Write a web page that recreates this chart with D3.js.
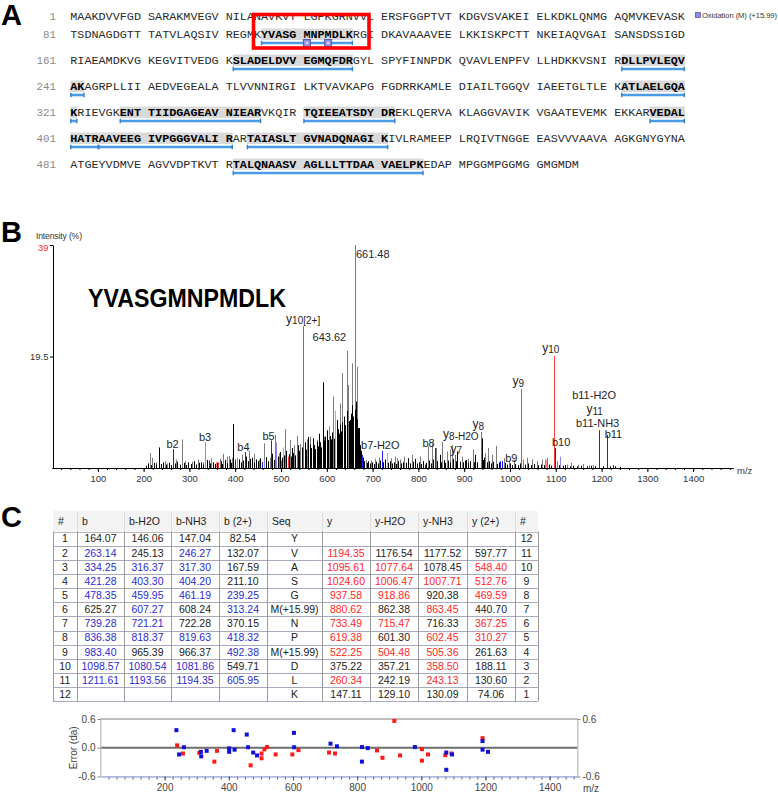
<!DOCTYPE html>
<html>
<head>
<meta charset="utf-8">
<script src="https://cdn.jsdelivr.net/npm/d3@7/dist/d3.min.js"></script>
<style>
body{margin:0;background:#fff;}
svg{display:block;}
</style>
</head>
<body>
<svg width="778" height="794"></svg>
<script>
// ---------- data ----------
// protein sequence, one string per printed row (groups of 10)
var proteinRows = [
  "MAAKDVVFGD SARAKMVEGV NILANAVKVT LGPKGRNVVL ERSFGGPTVT KDGVSVAKEI ELKDKLQNMG AQMVKEVASK",
  "TSDNAGDGTT TATVLAQSIV REGMKYVASG MNPMDLKRGI DKAVAAAVEE LKKISKPCTT NKEIAQVGAI SANSDSSIGD",
  "RIAEAMDKVG KEGVITVEDG KSLADELDVV EGMQFDRGYL SPYFINNPDK QVAVLENPFV LLHDKKVSNI RDLLPVLEQV",
  "AKAGRPLLII AEDVEGEALA TLVVNNIRGI LKTVAVKAPG FGDRRKAMLE DIAILTGGQV IAEETGLTLE KATLAELGQA",
  "KRIEVGKENT TIIDGAGEAV NIEARVKQIR TQIEEATSDY DREKLQERVA KLAGGVAVIK VGAATEVEMK EKKARVEDAL",
  "HATRAAVEEG IVPGGGVALI RARTAIASLT GVNADQNAGI KIVLRAMEEP LRQIVTNGGE EASVVVAAVA AGKGNYGYNA",
  "ATGEYVDMVE AGVVDPTKVT RTALQNAASV AGLLLTTDAA VAELPKEDAP MPGGMPGGMG GMGMDM"
];
var peptideStarts = [106,182,232,312,328,351,396,405,424,502];
var peptideEnds   = [117,197,242,321,345,362,404,421,441,526];
var oxidationSites = [111,114];
var legendText = "Oxidation (M) (+15.99)";

// spectrum peaks [m/z, intensity %]
var grayPeaks = [[213,2.6],[218,1.8],[226,1.0],[247,1.2],[252,0.8],[270,1.5],[284,5.0],[290,1.2],[305,1.1],[318,1.5],
  [329,1.0],[348,1.7],[366,1.6],[373,2.5],[383,2.0],[386,2.1],[392,1.8],[415,2.3],[422,1.4],[431,3.0],[441,2.5],
  [452,1.5],[463,4.3],[475,1.8],[487,5.8],[496,2.6],[509,6.8],[520,4.9],[528,4.0],[534,5.6],[542,4.2],[556,5.0],
  [564,5.5],[573,4.0],[579,4.9],[595,5.5],[613,12.5],[629,11.3],[634,16.6],[643.62,20.5],[647,14.5],[654,18.3],
  [661.48,39],[667,17.7],[680,1.5],[685,1.4],[697,1.3],[705,1.6],[713,1.2],[740,1.7],[749,2.0],[753,1.7],[760,1.5],
  [769,2.0],[785,2.3],[803,2.0],[821,3.8],[829,4.3],[838,3.5],[852,4.6],[862,2.9],[869,3.2],[873,4.0],[880,2.0],
  [895,2.0],[908,1.6],[946,2.6],[951,3.5],[961,2.3],[969,3.9],[987,1.7],[997,1.3],[1008,1.5],[1029,1.5],[1037,1.8],
  [1048,1.5],[1059,1.2],[1070,1.5],[1081,1.8],[1103,1.2],[1125,0.6],[1134,0.9],[1149,0.6],[1160,0.7],[1172,0.5],[1182,0.5]];
var blackPeaks = [[205,0.4],[209,0.8],[216,0.5],[222,0.9],[228,0.6],[234,3.6],[238,0.7],[243,1.0],[250,0.6],[255,0.9],
  [259,0.5],[268,0.8],[274,1.1],[279,0.6],[288,0.9],[293,0.5],[298,1.0],[303,0.7],[309,1.2],[314,0.6],[320,0.9],
  [325,1.0],[330,0.6],[339,1.4],[345,0.8],[351,1.0],[355,0.7],[361,0.9],[368,1.2],[371,0.7],[378,1.4],[382,0.8],
  [388,1.5],[391,0.9],[396,7.7],[399,1.1],[404,1.6],[409,1.5],[413,1.0],[418,1.3],[424,2.0],[427,1.2],[433,1.6],
  [436,1.8],[440,1.0],[445,1.5],[449,1.2],[454,1.7],[459,1.0],[463,1.3],[468,1.9],[471,1.2],[478,2.2],[481,2.5],
  [485,1.4],[493,2.0],[498,2.8],[502,1.8],[507,2.2],[512,3.0],[517,2.4],[521,2.0],[524,3.5],[527,2.6],[531,2.2],
  [537,4.0],[540,3.0],[545,3.6],[549,2.7],[552,4.5],[555,3.2],[558,3.8],[560,5.4],[563,4.1],[566,3.5],[569,5.2],
  [572,4.0],[575,3.3],[578,4.6],[581,3.8],[583,6.0],[586,4.5],[588,3.6],[591,15.0],[593,4.8],[597,5.5],[600,6.6],
  [603,4.9],[607,5.6],[609,5.0],[612,6.2],[615,5.1],[619,7.2],[622,8.4],[624,6.8],[626,6.0],[628,7.6],[631,6.4],
  [634,8.0],[637,9.0],[640,7.5],[645,10.0],[648,8.2],[651,8.4],[653,9.5],[656,11.0],[658,9.0],[661,10.2],[663,11.6],
  [665,8.5],[668,7.0],[670,7.0],[672,4.0],[674,3.0],[678,1.8],[682,1.2],[687,0.9],[690,1.2],[694,0.8],[699,1.0],
  [703,0.7],[708,1.1],[712,0.8],[716,1.3],[723,1.0],[727,1.5],[733,0.9],[737,1.2],[743,0.8],[747,1.0],[752,0.7],
  [756,1.2],[762,0.8],[766,1.0],[772,0.9],[778,1.7],[782,0.8],[789,1.1],[793,1.6],[797,0.8],[801,1.0],[806,0.7],
  [810,1.2],[817,0.9],[824,1.3],[827,0.8],[833,1.5],[841,1.2],[847,2.3],[850,1.0],[856,1.4],[859,0.9],[865,1.3],
  [868,1.0],[876,1.6],[882,1.2],[885,2.9],[890,1.1],[897,1.0],[901,1.3],[904,1.4],[909,0.9],[913,1.2],[921,1.0],
  [924,2.3],[929,1.0],[939,5.2],[941,1.4],[944,1.8],[949,1.0],[955,1.2],[959,0.8],[964,1.1],[972,0.7],[975,1.0],
  [982,0.6],[990,0.9],[994,0.6],[1000,0.8],[1005,0.5],[1012,0.7],[1017,0.5],[1021,0.8],[1032,0.6],[1040,0.8],
  [1045,0.5],[1053,0.7],[1062,0.5],[1067,0.6],[1074,0.5],[1085,0.6],[1090,0.4],[1106,0.5],[1115,0.4],[1121,0.5],
  [1130,0.3],[1138,0.4],[1146,0.3],[1155,0.4],[1168,0.3],[1176,0.4],[1185,0.3],[1203,0.3],[1218,0.3],[1229,0.3],[1240,0.2]];
var lightBluePeaks = [[334.25,4.5],[404,1.8],[462,1.6],[490,4.5],[605,7.3],[1077,1.5],[1110,2.0]];
var pinkPeaks = [[265,1.5],[358,1.1],[505,3.6],[617,10.0],[731,2.6],[1079,1.4]];
var bluePeaks = [[263.14,3.3],[421.28,2.8],[478.35,4.8],[721.21,3.0],[836.38,3.5],[983.40,1.2],[1098.57,3.5],
  [1193.56,6.6],[1211.61,5.8],[343,1.3],[400,1.5],[458,1.0],[676,2.3],[814,0.6],[979,1.2],[1224,0.5]];
var redPeaks = [[548.40,24.8],[1095.61,19.6],[1024.60,13.8],[937.58,6.3],[918.86,3.2],[880.62,2.3],
  [362,1.0],[501,1.3],[516,2.0],[713,1.8]];

// annotations on the spectrum
var annLabels = ["b2","b3","b4","b5","b7-H2O","b8","b9","b10","b11","y7","y8-H2O","y8","y9","y10","y10[2+]",
  "b11-H2O","y11","b11-NH3","643.62","661.48"];
var annMz  = [263.14,334.25,421.28,478.35,721.21,836.38,983.40,1098.57,1211.61,880.62,918.86,937.58,1024.60,1095.61,548.40,
  1193.56,1193.56,1193.56,643.62,661.48];
var annInt = [3.3,4.5,2.8,4.8,3.0,3.5,1.2,3.5,5.8,2.3,3.2,6.3,13.8,19.6,24.8,6.6,6.6,6.6,20.5,39];
var peptideName = "YVASGMNPMDLK";

// fragment table
var tableHeaders = ["#","b","b-H2O","b-NH3","b (2+)","Seq","y","y-H2O","y-NH3","y (2+)","#"];
var bIons  = ["164.07","263.14","334.25","421.28","478.35","625.27","739.28","836.38","983.40","1098.57","1211.61",""];
var bH2O   = ["146.06","245.13","316.37","403.30","459.95","607.27","721.21","818.37","965.39","1080.54","1193.56",""];
var bNH3   = ["147.04","246.27","317.30","404.20","461.19","608.24","722.28","819.63","966.37","1081.86","1194.35",""];
var b2plus = ["82.54","132.07","167.59","211.10","239.25","313.24","370.15","418.32","492.38","549.71","605.95",""];
var seqRes = ["Y","V","A","S","G","M(+15.99)","N","P","M(+15.99)","D","L","K"];
var yIons  = ["","1194.35","1095.61","1024.60","937.58","880.62","733.49","619.38","522.25","375.22","260.34","147.11"];
var yH2O   = ["","1176.54","1077.64","1006.47","918.86","862.38","715.47","601.30","504.48","357.21","242.19","129.10"];
var yNH3   = ["","1177.52","1078.45","1007.71","920.38","863.45","716.33","602.45","505.36","358.50","243.13","130.09"];
var y2plus = ["","597.77","548.40","512.76","469.59","440.70","367.25","310.27","261.63","188.11","130.60","74.06"];
var bIonsHit  = [0,1,1,1,1,0,1,1,1,1,1,0];
var bH2OHit   = [0,0,1,1,1,1,1,1,0,1,1,0];
var bNH3Hit   = [0,1,1,1,1,0,0,1,0,1,1,0];
var b2plusHit = [0,0,0,0,1,1,0,1,1,0,1,0];
var yIonsHit  = [0,1,1,1,1,1,1,1,1,0,1,0];
var yH2OHit   = [0,0,1,1,1,0,1,0,1,0,0,0];
var yNH3Hit   = [0,0,0,1,0,1,0,1,1,1,1,0];
var y2plusHit = [0,0,1,1,1,0,1,1,0,0,0,0];

// mass error [m/z, error da]
var errBlue = [[236.6,0.367],[245,-0.14],[260,0.01],[313,-0.085],[314,-0.18],[331,-0.064],[401,-0.014],[401,-0.085],
  [415,0.367],[418,-0.04],[456,0.275],[460,0.01],[476,-0.1],[488,-0.16],[603,0.31],[603.6,0.01],[717,0.085],[737,0.03],
  [815,0.014],[815,-0.29],[833,-0.007],[980,0.014],[1078,-0.1],[1078,-0.46],[1096,-0.14],[1191,0.14],[1191,-0.04],[1208,-0.085]];
var errRed = [[239,0.05],[257,-0.12],[308,-0.106],[355,-0.29],[363,-0.064],[468,-0.367],[502,-0.12],[502,-0.22],
  [511,-0.035],[519,0.014],[546,-0.14],[598,-0.14],[617,-0.05],[712.5,-0.1],[731,-0.12],[862,-0.056],[879,-0.21],
  [916,0.56],[934,-0.16],[1002,-0.03],[1002,-0.27],[1021,-0.14],[1075,-0.155],[1094,-0.12],[1191,0.2]];

// ---------- drawing ----------
var svg = d3.select("svg");
var sans = "'Liberation Sans', Arial, sans-serif";
var mono = "'Liberation Mono', 'Courier New', monospace";

// panel letters
var letters = svg.append("g").attr("font-family", sans).attr("font-weight", "bold").attr("font-size", 29);
letters.append("text").attr("x", 1).attr("y", 25).text("A");
letters.append("text").attr("x", 1).attr("y", 242).text("B");
letters.append("text").attr("x", 1).attr("y", 527).text("C");

// ===== panel A: sequence coverage =====
var seqX0 = 70.3, seqCw = 7.064;
function seqColX(c) { return seqX0 + (Math.floor(c / 10) * 11 + c % 10) * seqCw; }
var rows = proteinRows.map(function(r) { return r.replace(/ /g, ""); });
var rowBase = [];
var yy = 19.5;
rows.forEach(function(row, r) {
  rowBase.push(yy);
  var s0 = r * 80 + 1, e0 = s0 + row.length - 1;
  var under = peptideStarts.some(function(s, k) { return s <= e0 && peptideEnds[k] >= s0; });
  yy += under ? 26 : 18;
});
function inPeptide(i) {
  return peptideStarts.some(function(s, k) { return i >= s && i <= peptideEnds[k]; });
}
var gA = svg.append("g");
// grey shading behind covered residues
peptideStarts.forEach(function(s, k) {
  var e = peptideEnds[k];
  rows.forEach(function(row, r) {
    var s0 = r * 80 + 1, e0 = s0 + row.length - 1;
    if (s > e0 || e < s0) return;
    var c1 = Math.max(s, s0) - s0, c2 = Math.min(e, e0) - s0;
    gA.append("rect")
      .attr("x", seqColX(c1)).attr("y", rowBase[r] - 9)
      .attr("width", seqColX(c2) + seqCw - seqColX(c1)).attr("height", 11.5)
      .attr("fill", "#d9d9d9");
  });
});
// residues
rows.forEach(function(row, r) {
  var s0 = r * 80 + 1;
  gA.append("text")
    .attr("x", 56).attr("y", rowBase[r])
    .attr("text-anchor", "end")
    .attr("font-family", mono).attr("font-size", 10.8)
    .attr("fill", "#8a8a8a")
    .text(s0);
  row.split("").forEach(function(ch, c) {
    var covered = inPeptide(s0 + c);
    gA.append("text")
      .attr("x", seqColX(c)).attr("y", rowBase[r])
      .attr("font-family", mono).attr("font-size", 11.77)
      .attr("font-weight", covered ? "bold" : "normal")
      .attr("fill", covered ? "#000" : "#2a2a2a")
      .text(ch);
  });
});
// blue underlines
peptideStarts.forEach(function(s, k) {
  var e = peptideEnds[k];
  rows.forEach(function(row, r) {
    var s0 = r * 80 + 1, e0 = s0 + row.length - 1;
    if (s > e0 || e < s0) return;
    var c1 = Math.max(s, s0) - s0, c2 = Math.min(e, e0) - s0;
    var xa = seqColX(c1) + 0.5, xb = seqColX(c2) + seqCw - 0.5, uy = rowBase[r] + 5.5;
    gA.append("line").attr("x1", xa).attr("x2", xb).attr("y1", uy).attr("y2", uy)
      .attr("stroke", "#4c9be8").attr("stroke-width", 2.6);
    [xa, xb].forEach(function(xt) {
      gA.append("line").attr("x1", xt).attr("x2", xt).attr("y1", uy - 2.2).attr("y2", uy + 2.2)
        .attr("stroke", "#2f7fd0").attr("stroke-width", 1.4);
    });
  });
});
// oxidation marks
oxidationSites.forEach(function(i) {
  var r = Math.floor((i - 1) / 80), c = (i - 1) % 80;
  var cx = seqColX(c) + seqCw / 2, cy = rowBase[r] + 5.5;
  gA.append("rect").attr("x", cx - 3.5).attr("y", cy - 3.5).attr("width", 7).attr("height", 7)
    .attr("fill", "#8e8ee0").attr("stroke", "#5a5ab8").attr("stroke-width", 1);
  gA.append("rect").attr("x", cx - 1.3).attr("y", cy - 1.3).attr("width", 2.6).attr("height", 2.6)
    .attr("fill", "#d8d8f4");
});
// legend
gA.append("rect").attr("x", 695.5).attr("y", 12.5).attr("width", 5).attr("height", 5)
  .attr("fill", "#8e8ee0").attr("stroke", "#5a5ab8").attr("stroke-width", 0.8);
gA.append("text").attr("x", 702).attr("y", 18).attr("font-family", sans).attr("font-size", 7.6)
  .attr("fill", "#333").attr("textLength", 75).text(legendText);
// red box round the peptide
gA.append("rect").attr("x", 253.5).attr("y", 14.5).attr("width", 115.5).attr("height", 33.5)
  .attr("fill", "none").attr("stroke", "#ff0000").attr("stroke-width", 3.6);

// ===== panel B: MS/MS spectrum =====
var xS = d3.scaleLinear().domain([0, 1487]).range([52, 733]);
var yS = d3.scaleLinear().domain([0, 39]).range([468, 245]);
var gB = svg.append("g");

function drawPeaks(list, color) {
  gB.append("g").selectAll("line").data(list).enter().append("line")
    .attr("x1", function(d) { return Math.round(xS(d[0])) + 0.5; })
    .attr("x2", function(d) { return Math.round(xS(d[0])) + 0.5; })
    .attr("y1", yS(0))
    .attr("y2", function(d) { return yS(d[1]); })
    .attr("stroke", color).attr("stroke-width", 1);
}
drawPeaks(grayPeaks, "#7d7d7d");
drawPeaks(blackPeaks, "#000");
drawPeaks(lightBluePeaks, "#8a8ae6");
drawPeaks(pinkPeaks, "#ff8c8c");
drawPeaks(bluePeaks, "#1e1ef0");
drawPeaks(redPeaks, "#ff3a3a");

// axes
var xMinor = gB.append("g").attr("transform", "translate(0,468)")
  .call(d3.axisBottom(xS).tickValues(d3.range(20, 1481, 20)).tickSize(2).tickSizeOuter(0).tickFormat(""));
var xMajor = gB.append("g").attr("transform", "translate(0,468)")
  .call(d3.axisBottom(xS).tickValues(d3.range(100, 1401, 100)).tickSize(4).tickPadding(3).tickSizeOuter(0)
    .tickFormat(d3.format("d")));
[xMinor, xMajor].forEach(function(g) {
  g.select(".domain").attr("stroke", "#000");
  g.selectAll(".tick line").attr("stroke", "#000");
});
xMajor.selectAll("text").attr("font-family", sans).attr("font-size", 9.5).attr("fill", "#333");
var yAx = gB.append("g").attr("transform", "translate(53,0)")
  .call(d3.axisLeft(yS).tickValues([19.5, 39]).tickSize(3).tickPadding(1.5).tickSizeOuter(0)
    .tickFormat(function(d) { return d; }));
yAx.select(".domain").attr("stroke", "#000");
yAx.selectAll(".tick line").attr("stroke", "#000");
yAx.selectAll("text").attr("font-family", sans).attr("font-size", 9.5)
  .attr("fill", function(d) { return d === 39 ? "#ff3030" : "#333"; });
yAx.selectAll("text").filter(function(d) { return d === 39; }).attr("dy", "0.55em");

gB.append("text").attr("x", 36).attr("y", 239).attr("font-family", sans).attr("font-size", 8.6)
  .attr("fill", "#333").attr("textLength", 46).text("Intensity (%)");
gB.append("text").attr("x", 737).attr("y", 473.5).attr("font-family", sans).attr("font-size", 9.5)
  .attr("fill", "#333").text("m/z");
gB.append("text").attr("x", 88).attr("y", 307).attr("font-family", sans).attr("font-weight", "bold")
  .attr("font-size", 26).attr("textLength", 198).attr("lengthAdjust", "spacingAndGlyphs").text(peptideName);

// peak labels: offset from the top of the peak
var annLayout = {
  "b2": [0, -1.5, "middle"], "b3": [0, -1, "middle"], "b4": [-1.5, -1, "middle"], "b5": [-2.5, -0.5, "middle"],
  "b7-H2O": [-2, -1.5, "middle"], "b8": [-6.5, -0.5, "middle"], "b9": [9, 0.5, "middle"], "b10": [6, -1.5, "middle"],
  "b11": [6.6, 2.7, "middle"], "y7": [1, -2, "middle"], "y8-H2O": [-12, -11.5, "middle"], "y8": [-3, -3.5, "middle"],
  "y9": [-3, -4, "middle"], "y10": [-3, -4, "middle"], "y10[2+]": [0, -3.5, "middle"],
  "b11-H2O": [-4.5, -31, "middle"], "y11": [-4, -17, "middle"], "b11-NH3": [-1, -3, "middle"],
  "643.62": [-0.5, -10, "end"], "661.48": [1, 12.5, "start"]
};
annLabels.forEach(function(lab, i) {
  var lay = annLayout[lab];
  var t = gB.append("text")
    .attr("x", xS(annMz[i]) + lay[0]).attr("y", yS(annInt[i]) + lay[1])
    .attr("text-anchor", lay[2])
    .attr("font-family", sans).attr("font-size", 11).attr("fill", "#262626");
  if (lab.charAt(0) === "y") {
    t.append("tspan").attr("font-size", 12).text("y");
    t.append("tspan").attr("font-size", 10).attr("dy", 1.5).text(lab.slice(1));
  } else {
    t.text(lab);
  }
});

// ===== panel C: fragment table =====
var colEdges = [53, 77, 124, 171, 219, 267, 322, 370, 418, 467, 515, 538];
var headTop = 511, headBot = 531.5, rowH = 14.15;
var rowNums = d3.range(1, 13);
var rowScale = d3.scaleBand().domain(d3.range(12)).range([headBot, headBot + 12 * rowH]);
var gC = svg.append("g").attr("font-family", sans).attr("font-size", 10.5);

gC.append("rect").attr("x", colEdges[0]).attr("y", headTop).attr("width", colEdges[11] - colEdges[0])
  .attr("height", headBot - headTop).attr("fill", "#f3f3f3");
tableHeaders.forEach(function(h, j) {
  gC.append("text").attr("x", colEdges[j] + 5).attr("y", headTop + 14).attr("fill", "#222").text(h);
  if (j > 0) gC.append("line").attr("x1", colEdges[j] + 0.5).attr("x2", colEdges[j] + 0.5)
    .attr("y1", headTop + 1).attr("y2", headBot).attr("stroke", "#dcdcdc");
});

var columns = [
  [rowNums.map(String), null, "#222"],
  [bIons, bIonsHit, "#2b2bd0"], [bH2O, bH2OHit, "#2b2bd0"], [bNH3, bNH3Hit, "#2b2bd0"], [b2plus, b2plusHit, "#2b2bd0"],
  [seqRes, null, "#222"],
  [yIons, yIonsHit, "#ff2626"], [yH2O, yH2OHit, "#ff2626"], [yNH3, yNH3Hit, "#ff2626"], [y2plus, y2plusHit, "#ff2626"],
  [rowNums.map(function(n) { return String(13 - n); }), null, "#222"]
];
// grid
d3.range(13).forEach(function(i) {
  var yl = Math.round(headBot + i * rowH) + 0.5;
  gC.append("line").attr("x1", colEdges[0]).attr("x2", colEdges[11]).attr("y1", yl).attr("y2", yl)
    .attr("stroke", i === 0 ? "#b8b8b8" : "#a9a9bd");
});
colEdges.forEach(function(xe, j) {
  gC.append("line").attr("x1", xe + 0.5).attr("x2", xe + 0.5).attr("y1", headBot).attr("y2", headBot + 12 * rowH)
    .attr("stroke", "#9c9c9c");
});
columns.forEach(function(col, j) {
  var cx = (colEdges[j] + colEdges[j + 1]) / 2;
  col[0].forEach(function(v, i) {
    if (v === "") return;
    gC.append("text")
      .attr("x", cx).attr("y", rowScale(i) + rowScale.bandwidth() / 2 + 3.8)
      .attr("text-anchor", "middle")
      .attr("fill", col[1] && col[1][i] ? col[2] : "#222")
      .text(v);
  });
});

// ===== mass error plot =====
var xE = d3.scaleLinear().domain([0, 1487]).range([100.5, 577.5]);
var yE = d3.scaleLinear().domain([-0.6, 0.6]).range([776.5, 719]);
var gE = svg.append("g").attr("font-family", sans);

gE.append("rect").attr("x", xE(0)).attr("y", yE(0.6)).attr("width", xE(1487) - xE(0))
  .attr("height", yE(-0.6) - yE(0.6)).attr("fill", "#fff").attr("stroke", "#c8c8c8");
gE.append("line").attr("x1", xE(0)).attr("x2", xE(1487)).attr("y1", yE(0.6)).attr("y2", yE(0.6))
  .attr("stroke", "#9a9a9a");
gE.append("line").attr("x1", xE(0)).attr("x2", xE(1487)).attr("y1", yE(0)).attr("y2", yE(0))
  .attr("stroke", "#6e6e6e").attr("stroke-width", 2);

var eMinor = gE.append("g").attr("transform", "translate(0," + yE(-0.6) + ")")
  .call(d3.axisBottom(xE).tickValues(d3.range(25, 1476, 25)).tickSize(3).tickSizeOuter(0).tickFormat(""));
var eMajor = gE.append("g").attr("transform", "translate(0," + yE(-0.6) + ")")
  .call(d3.axisBottom(xE).tickValues(d3.range(200, 1401, 200)).tickSize(4).tickPadding(3).tickSizeOuter(0)
    .tickFormat(d3.format("d")));
[eMinor, eMajor].forEach(function(g) {
  g.select(".domain").attr("stroke", "#aab6e4");
  g.selectAll(".tick line").attr("stroke", "#555");
});
eMajor.selectAll("text").attr("font-size", 10).attr("fill", "#444").attr("font-family", sans);

var eLeft = gE.append("g").attr("transform", "translate(" + xE(0) + ",0)")
  .call(d3.axisLeft(yE).tickValues([-0.6, 0, 0.6]).tickSize(3).tickPadding(2).tickSizeOuter(0)
    .tickFormat(d3.format(".1f")));
var eRight = gE.append("g").attr("transform", "translate(" + xE(1487) + ",0)")
  .call(d3.axisRight(yE).tickValues([-0.6, 0.6]).tickSize(3).tickPadding(2).tickSizeOuter(0)
    .tickFormat(d3.format(".1f")));
[eLeft, eRight].forEach(function(g) {
  g.select(".domain").attr("stroke", "#c8c8c8");
  g.selectAll(".tick line").attr("stroke", "#888");
  g.selectAll("text").attr("font-size", 10).attr("fill", "#444").attr("font-family", sans)
    .text(function(d) { return d3.format(".1f")(d).replace("\u2212", "-"); });
});

gE.append("text").attr("transform", "translate(77," + yE(0) + ") rotate(-90)")
  .attr("text-anchor", "middle").attr("font-size", 10).attr("fill", "#444").text("Error (da)");
gE.append("text").attr("x", 583).attr("y", 792).attr("font-size", 10).attr("fill", "#444").text("m/z");

function drawErr(list, color) {
  gE.append("g").selectAll("rect").data(list).enter().append("rect")
    .attr("x", function(d) { return xE(d[0]) - 2; })
    .attr("y", function(d) { return yE(d[1]) - 2; })
    .attr("width", 4).attr("height", 4)
    .attr("fill", color);
}
drawErr(errRed, "#ff1a1a");
drawErr(errBlue, "#1010d8");
</script>
</body>
</html>
